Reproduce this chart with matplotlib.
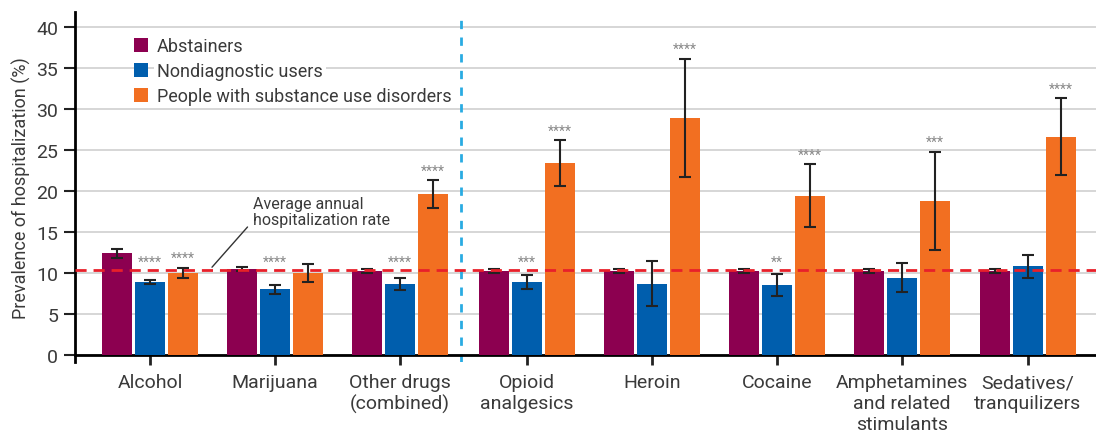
import matplotlib
matplotlib.use("Agg")
import matplotlib.pyplot as plt
import numpy as np

plt.rcParams['font.family'] = ['Liberation Sans Narrow', 'Roboto', 'DejaVu Sans']

# data
categories = ["Alcohol", "Marijuana", "Other drugs\n(combined)", "Opioid\nanalgesics",
              "Heroin", "Cocaine", "Amphetamines\nand related\nstimulants",
              "Sedatives/\ntranquilizers"]
series = ["Abstainers", "Nondiagnostic users", "People with substance use disorders"]
abstainers = [12.4, 10.5, 10.2, 10.2, 10.2, 10.2, 10.2, 10.2]
abstainers_err = [0.55, 0.25, 0.25, 0.25, 0.25, 0.25, 0.25, 0.25]
nondiag = [8.9, 8.0, 8.6, 8.9, 8.7, 8.5, 9.4, 10.8]
nondiag_err = [0.3, 0.57, 0.73, 0.8, 2.75, 1.35, 1.77, 1.36]
sud = [10.0, 10.0, 19.6, 23.4, 28.9, 19.4, 18.8, 26.6]
sud_err = [0.65, 1.1, 1.7, 2.75, 7.2, 3.85, 6.0, 4.7]
nondiag_stars = ["****", "****", "****", "***", "", "**", "", ""]
sud_stars = ["****", "", "****", "****", "****", "****", "***", "****"]
avg_rate = 10.4

colors = ["#8C0050", "#005EAD", "#F26F21"]
txt = "#3a3a3a"

# layout (x in pixel-like units from left spine)
centers = np.array([75, 200, 325, 452, 577, 702, 827, 953], dtype=float)
width = 30
step = 33.3
divider_x = 386

fig = plt.figure(figsize=(10.96, 4.39), dpi=100)
ax = fig.add_axes([75 / 1096, 76 / 439, 1 - 75 / 1096, (363 - 13) / 439])

vals = [abstainers, nondiag, sud]
errs = [abstainers_err, nondiag_err, sud_err]
for k in range(3):
    xs = centers + (k - 1) * step
    ax.bar(xs, vals[k], width=width, color=colors[k], label=series[k], zorder=3)
    ax.errorbar(xs, vals[k], yerr=errs[k], fmt="none", ecolor="#222222",
                elinewidth=1.5, capsize=4, capthick=1.5, zorder=4)

# significance stars
for i in range(len(categories)):
    if nondiag_stars[i]:
        y = max(nondiag[i] + nondiag_err[i] + 0.4, 10.5)
        ax.text(centers[i], y, nondiag_stars[i], ha="center", va="bottom",
                fontsize=10, color="#888888", zorder=5)
    if sud_stars[i]:
        y = sud[i] + sud_err[i] + 0.3
        ax.text(centers[i] + step, y, sud_stars[i], ha="center", va="bottom",
                fontsize=10, color="#888888", zorder=5)

ax.axhline(avg_rate, color="#E8202A", linestyle=(0, (4, 2.5)), linewidth=2, zorder=5)
ax.axvline(divider_x, color="#29ABE2", linestyle=(0, (3, 3)), linewidth=2, zorder=2)

ax.annotate("Average annual\nhospitalization rate", xy=(137, avg_rate + 0.3),
            xytext=(178, 15.6), fontsize=11.5, color=txt, ha="left", va="bottom",
            linespacing=1.05,
            arrowprops=dict(arrowstyle="-", color="#333333", lw=1,
                            shrinkA=0, shrinkB=0, relpos=(-0.04, 0.0)))

ax.set_xlim(0, 1021)
ax.set_ylim(-0.85, 41.8)
ax.set_yticks(np.arange(0, 41, 5))
ax.yaxis.grid(True, color="#d0d0d0", linewidth=1.2, zorder=0)
ax.set_axisbelow(True)
ax.set_xticks(centers)
ax.set_xticklabels(categories, color=txt)
ax.tick_params(axis="y", labelsize=14, colors="#222222", labelcolor=txt,
               length=8, width=1.5, pad=4)
ax.tick_params(axis="x", labelsize=14, length=7, width=2, colors="#222222",
               labelcolor=txt, pad=6)
for lab in ax.get_xticklabels():
    lab.set_linespacing(1.3)
ax.set_ylabel("Prevalence of hospitalization (%)", fontsize=13, color=txt, labelpad=4)

for s in ["top", "right"]:
    ax.spines[s].set_visible(False)
ax.spines["left"].set_linewidth(2)
ax.spines["bottom"].set_linewidth(2)
ax.spines["bottom"].set_position(("data", 0))

leg = ax.legend(loc="upper left", bbox_to_anchor=(0.045, 0.965), frameon=False,
                fontsize=13, handlelength=0.8, handleheight=0.8, handletextpad=0.5,
                labelspacing=0.4, borderpad=0.2)
for t in leg.get_texts():
    t.set_color(txt)
    t.set_bbox(dict(facecolor="white", edgecolor="none", pad=2))

fig.savefig("out.png", dpi=100)
